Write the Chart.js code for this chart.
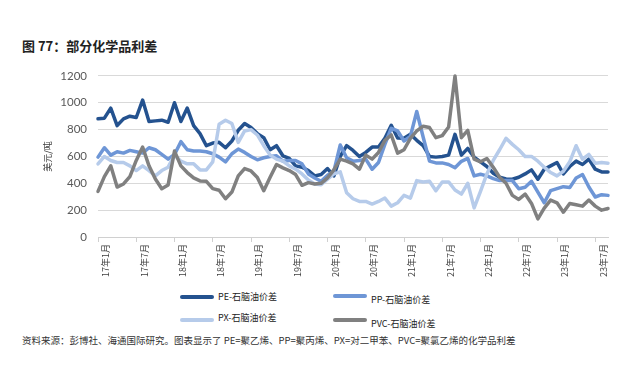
<!DOCTYPE html>
<html>
<head>
<meta charset="utf-8">
<script src="https://cdn.jsdelivr.net/npm/chart.js@4"></script>
<style>
  body { margin: 0; width: 630px; height: 366px; background: #fff; position: relative; overflow: hidden;
         font-family: "Noto Sans CJK SC", sans-serif; color: #222; }
  #title { position: absolute; left: 22px; top: 36px; font-size: 13px; font-weight: bold; }
  #wrap { position: absolute; left: 0; top: 58px; width: 630px; height: 230px; }
  .lg { position: absolute; font-size: 9px; line-height: 12px; }
  .lg i { position: absolute; width: 34px; height: 4px; border-radius: 2px; }
  #source { position: absolute; left: 22px; top: 333px; font-size: 9.5px; color: #333; white-space: nowrap; }
</style>
</head>
<body>
<div id="title">图 77：部分化学品利差</div>
<div id="wrap"><canvas id="chart"></canvas></div>
<div id="legend"></div>
<div id="source">资料来源：彭博社、海通国际研究。图表显示了 PE=聚乙烯、PP=聚丙烯、PX=对二甲苯、PVC=聚氯乙烯的化学品利差</div>
<script>
// monthly, Jan 2017 - Sep 2023
const startYear = 17;
const monthCount = 81;
const months = [];
for (let k = 0; k < monthCount; k++) {
    months.push((startYear + Math.floor(k / 12)) + '年' + (k % 12 + 1) + '月');
}

const seriesNames = ['PE-石脑油价差', 'PP-石脑油价差', 'PX-石脑油价差', 'PVC-石脑油价差'];
const seriesColors = ['#24528f', '#6e96d6', '#b6cbea', '#808080'];

const peSpread = [880, 885, 960, 830, 880, 900, 890, 1020, 860, 865,
    870, 855, 1000, 860, 960, 830, 770, 680, 700, 705,
    665, 715, 795, 845, 815, 770, 740, 650, 680, 605,
    585, 530, 520, 495, 455, 465, 510, 455, 600, 680,
    645, 600, 630, 670, 670, 735, 832, 737, 735, 765,
    720, 680, 600, 595, 600, 610, 765, 610, 660, 595,
    560, 525, 475, 445, 432, 430, 445, 470, 500, 430,
    505, 530, 555, 470, 525, 565, 540, 580, 505, 485,
    485];
const ppSpread = [595, 665, 610, 635, 625, 645, 635, 625, 665, 650,
    615, 580, 615, 710, 650, 640, 640, 635, 620, 595,
    560, 620, 655, 630, 600, 575, 590, 600, 605, 565,
    570, 570, 545, 470, 440, 415, 460, 490, 685, 590,
    565, 570, 580, 505, 555, 690, 810, 790, 715, 750,
    935, 745, 565, 552, 552, 540, 516, 564, 585, 455,
    467, 455, 435, 420, 420, 420, 360, 370, 415, 335,
    255, 345, 360, 375, 368, 440, 465, 372, 298, 315,
    310];
const pxSpread = [545, 600, 570, 555, 555, 530, 495, 530, 495, 455,
    495, 520, 610, 565, 545, 545, 500, 500, 560, 840,
    870, 845, 705, 790, 800, 760, 680, 610, 580, 565,
    530, 505, 470, 425, 395, 390, 430, 470, 485, 330,
    285, 265, 265, 245, 265, 290, 230, 255, 310, 290,
    420, 410, 415, 345, 410, 410, 350, 320, 400, 217,
    340, 470, 570, 650, 735, 690, 650, 600, 600, 565,
    520, 480, 455, 490, 560, 680, 580, 615, 550, 555,
    550];
const pvcSpread = [340, 450, 530, 372, 395, 450, 570, 670, 530, 432,
    360, 388, 640, 530, 480, 440, 418, 415, 360, 348,
    285, 335, 455, 510, 492, 443, 345, 445, 540, 515,
    495, 465, 385, 405, 395, 400, 440, 500, 580, 565,
    545, 505, 610, 580, 630, 720, 760, 625, 650, 735,
    790, 825, 815, 740, 755, 820, 1200, 740, 795, 580,
    560, 585, 520, 445, 400, 310, 280, 320, 250, 135,
    215, 275, 255, 185, 250, 240, 230, 275, 230, 200,
    212];

const yTicks = [0, 200, 400, 600, 800, 1000, 1200];
const yTitle = '美元/吨';

const allSeries = [peSpread, ppSpread, pxSpread, pvcSpread];

new Chart(document.getElementById('chart'), {
    type: 'line',
    data: {
        labels: months,
        datasets: allSeries.map((d, k) => ({
            label: seriesNames[k],
            data: d,
            borderColor: seriesColors[k],
            backgroundColor: seriesColors[k],
            borderWidth: 3.5,
            pointRadius: 0,
            tension: 0,
            borderJoinStyle: 'round',
            borderCapStyle: 'round',
            clip: false,
            order: 4 - k
        }))
    },
    options: {
        responsive: true,
        maintainAspectRatio: false,
        animation: false,
        layout: { padding: { left: 0, right: 22, top: 13, bottom: 0 } },
        plugins: { legend: { display: false }, tooltip: { enabled: false } },
        scales: {
            x: {
                offset: false,
                afterFit: s => { s.height = 51; },
                grid: {
                    drawOnChartArea: false,
                    drawTicks: true,
                    tickLength: 5,
                    color: c => (c.index % 6 === 0 ? '#d0d0d0' : 'rgba(0,0,0,0)')
                },
                border: { display: true, color: '#d0d0d0' },
                ticks: {
                    autoSkip: false,
                    maxRotation: 90,
                    minRotation: 90,
                    padding: 2,
                    labelOffset: 8,
                    color: '#404040',
                    font: { family: 'Noto Sans CJK SC', size: 9 },
                    callback: (v, idx) => (idx % 6 === 0 ? months[idx] : '')
                }
            },
            y: {
                min: 0,
                max: 1200,
                afterFit: s => { s.width = 98; },
                afterBuildTicks: s => { s.ticks = yTicks.map(v => ({ value: v })); },
                grid: { color: '#d9d9d9', drawTicks: false },
                border: { display: false },
                ticks: {
                    padding: 11,
                    color: '#595959',
                    font: { family: 'Lato', size: 11.5 },
                    callback: v => String(v)
                },
                title: {
                    display: true,
                    text: yTitle,
                    color: '#404040',
                    font: { family: 'Noto Sans CJK SC', size: 9 },
                    padding: { top: 42, bottom: 0 }
                }
            }
        }
    }
});

// legend, 2 x 2, built from the series lists
const legendPos = [[180, 291, 0], [333, 290, 4], [180, 314, -2], [333, 314, 4]];
const legend = document.getElementById('legend');
seriesNames.forEach((name, k) => {
    const [x, y, dy] = legendPos[k];
    const item = document.createElement('div');
    item.className = 'lg';
    item.style.left = x + 'px';
    item.style.top = y + 'px';
    item.innerHTML = '<i style="left:0;top:4px;background:' + seriesColors[k] + '"></i>' +
        '<span style="position:absolute;left:38px;top:' + dy + 'px;white-space:nowrap">' + name + '</span>';
    legend.appendChild(item);
});
</script>
</body>
</html>
